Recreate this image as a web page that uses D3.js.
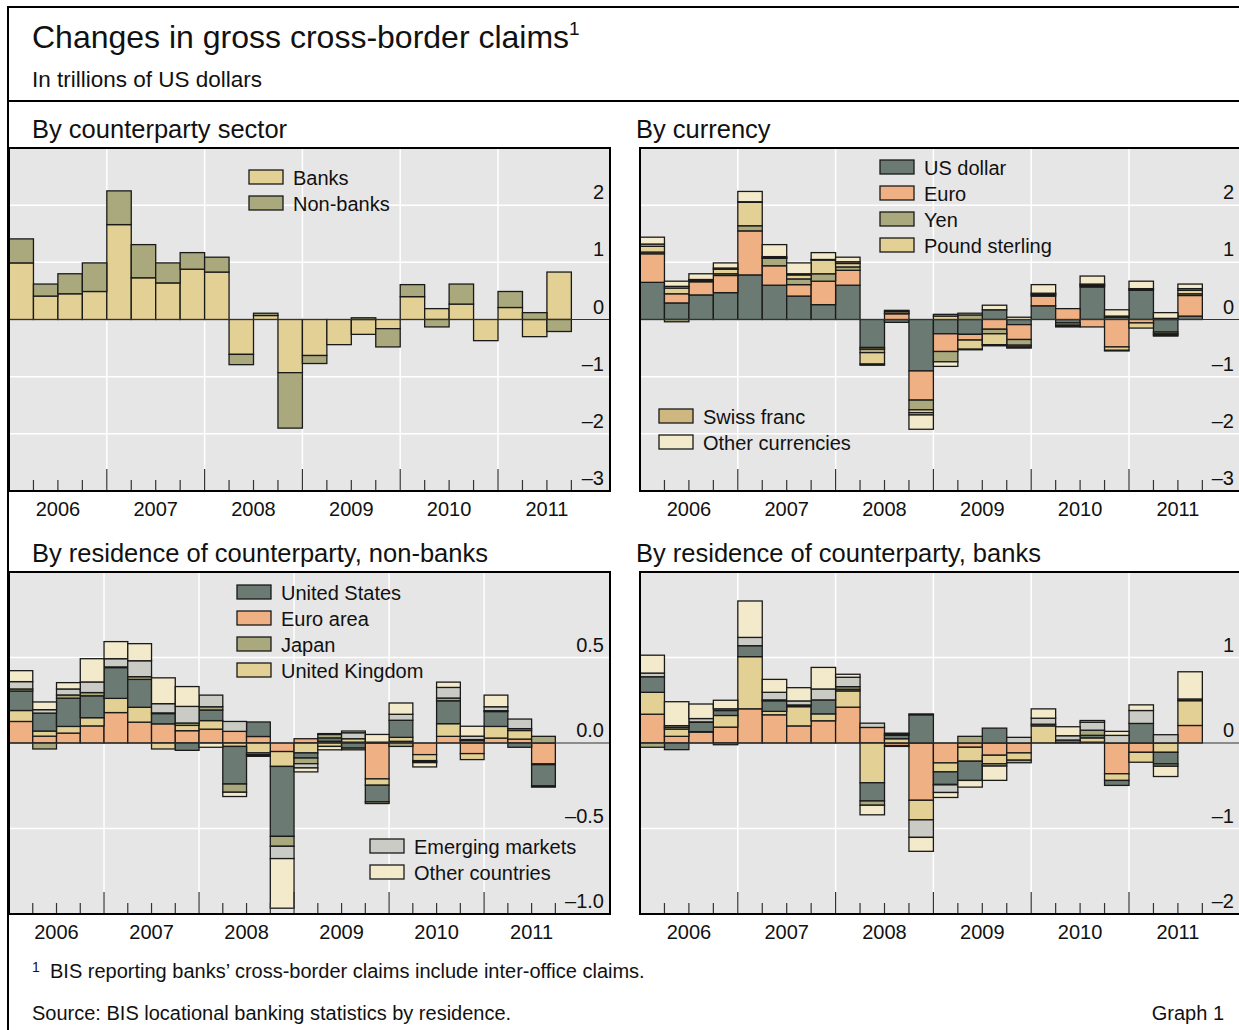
<!DOCTYPE html>
<html>
<head>
<meta charset="utf-8">
<script src="https://cdn.jsdelivr.net/npm/d3@7"></script>
<style>
body { margin: 0; background: #fff; }
svg { display: block; font-family: "Liberation Sans", Arial, sans-serif; }
</style>
</head>
<body>
<svg width="1239" height="1030"></svg>
<script>
// quarters 2006Q1 .. 2011Q3
const quarters = ['2006Q1','2006Q2','2006Q3','2006Q4','2007Q1','2007Q2','2007Q3','2007Q4',
                  '2008Q1','2008Q2','2008Q3','2008Q4','2009Q1','2009Q2','2009Q3','2009Q4',
                  '2010Q1','2010Q2','2010Q3','2010Q4','2011Q1','2011Q2','2011Q3'];
const years = ['2006', '2007', '2008', '2009', '2010', '2011'];

// By counterparty sector
const banks    = [0.99, 0.41, 0.45, 0.49, 1.66, 0.73, 0.64, 0.88, 0.83, -0.61, 0.07, -0.93,
                  -0.63, -0.44, -0.26, -0.16, 0.40, 0.19, 0.27, -0.37, 0.21, -0.30, 0.83];
const nonBanks = [0.42, 0.21, 0.35, 0.50, 0.59, 0.58, 0.35, 0.29, 0.26, -0.18, 0.04, -0.97,
                  -0.14, 0.00, 0.03, -0.32, 0.21, -0.13, 0.35, 0.00, 0.28, 0.12, -0.21];

// By currency
const usDollar = [0.65, 0.29, 0.43, 0.47, 0.78, 0.60, 0.41, 0.26, 0.60, -0.49, -0.05, -0.90,
                  -0.25, -0.26, 0.17, -0.09, 0.24, -0.06, 0.57, 0.04, 0.51, -0.22, 0.06];
const euro     = [0.50, 0.16, 0.23, 0.30, 0.77, 0.34, 0.20, 0.41, 0.26, -0.03, 0.10, -0.51,
                  -0.31, -0.10, -0.17, -0.26, 0.17, 0.19, -0.13, -0.48, -0.06, 0.02, 0.36];
const yen      = [0.03, -0.04, 0.02, 0.03, 0.09, 0.13, 0.10, 0.13, 0.06, -0.06, 0.01, -0.17,
                  -0.18, 0.08, -0.08, -0.10, 0.02, -0.04, 0.02, 0.02, 0.02, -0.03, 0.03];
const sterling = [0.10, 0.10, 0.01, 0.08, 0.41, 0.01, 0.07, 0.24, 0.06, -0.20, 0.03, -0.05,
                  0.06, -0.16, -0.19, -0.03, 0.02, -0.02, 0.02, -0.06, -0.09, -0.02, 0.06];
const swissFranc = [0.04, 0.03, 0.01, 0.02, 0.01, 0.02, 0.02, 0.01, 0.03, -0.02, 0.00, -0.04,
                  0.03, -0.01, -0.02, -0.02, 0.01, -0.01, 0.01, -0.01, 0.01, -0.02, 0.03];
const otherCcy = [0.12, 0.09, 0.10, 0.09, 0.18, 0.21, 0.19, 0.12, 0.08, 0.00, 0.02, -0.25,
                  -0.08, 0.03, 0.08, 0.04, 0.15, 0.00, 0.14, 0.11, 0.13, 0.10, 0.08];

// By residence of counterparty, non-banks
const nbUS = [0.114, 0.105, 0.165, 0.128, 0.18, 0.163, 0.06, -0.043, 0.062, -0.22, 0.085, -0.409,
              -0.03, 0.02, -0.03, -0.097, 0.10, -0.005, 0.134, 0.015, 0.087, -0.025, -0.124];
const nbEA = [0.126, 0.04, 0.058, 0.10, 0.178, 0.122, 0.112, 0.072, 0.081, 0.068, 0.038, -0.05,
              0.025, 0.01, 0.005, -0.21, 0.01, -0.068, 0.039, -0.062, 0.029, 0.023, -0.122];
const nbJP = [0.012, -0.035, 0.019, 0.019, 0.004, 0.016, 0.004, 0.014, 0.019, -0.048, -0.01, -0.058,
              -0.033, 0.02, -0.01, -0.01, -0.02, -0.003, 0.016, 0.005, 0.005, 0.011, 0.039];
const nbUK = [0.064, 0.03, 0.039, 0.048, 0.083, 0.087, -0.035, 0.031, 0.05, -0.02, -0.058, -0.087,
              -0.058, -0.02, 0.02, -0.037, 0.023, -0.035, 0.074, -0.035, 0.068, 0.05, -0.005];
const nbEM = [0.043, 0.02, 0.035, 0.062, 0.048, 0.093, 0.054, 0.097, 0.068, 0.058, -0.005, -0.072,
              -0.025, 0.005, 0.035, 0.005, 0.035, -0.004, 0.062, 0.02, 0.023, 0.056, -0.003];
const nbOC = [0.064, 0.045, 0.037, 0.136, 0.10, 0.10, 0.151, 0.116, -0.025, -0.025, -0.005, -0.29,
              -0.023, -0.02, 0.01, 0.045, 0.066, -0.025, 0.031, 0.058, 0.068, 0.0, -0.004];

// By residence of counterparty, banks
const bUS = [0.182, -0.078, 0.109, 0.058, 0.128, 0.124, 0.015, 0.163, 0.02, -0.213, 0.04, 0.33,
             -0.147, -0.225, 0.174, 0.0, 0.02, 0.03, 0.03, -0.058, 0.229, -0.136, 0.02];
const bEA = [0.337, 0.078, 0.128, 0.186, 0.40, 0.33, 0.20, 0.26, 0.419, 0.182, -0.03, -0.67,
             -0.233, -0.05, -0.143, -0.116, 0.0, 0.005, 0.01, -0.36, -0.109, 0.0, 0.205];
const bJP = [-0.05, 0.02, 0.005, 0.02, 0.0, 0.01, 0.005, 0.0, 0.03, -0.05, -0.01, 0.01,
             -0.005, 0.078, -0.027, -0.03, 0.0, 0.0, 0.06, 0.0, 0.0, -0.027, 0.0];
const bUK = [0.256, 0.085, 0.005, 0.136, 0.61, 0.04, 0.225, 0.081, 0.19, -0.465, 0.05, -0.229,
             -0.105, -0.163, -0.10, -0.085, 0.20, 0.0, 0.05, -0.078, -0.116, -0.109, 0.29];
const bEM = [0.043, 0.02, 0.039, -0.02, 0.097, 0.089, 0.047, 0.128, 0.11, 0.05, 0.015, -0.205,
             -0.089, 0.0, 0.0, 0.066, 0.07, 0.05, 0.093, 0.089, 0.151, 0.097, 0.0];
const bOC = [0.209, 0.28, 0.17, 0.10, 0.426, 0.151, 0.155, 0.252, 0.035, -0.112, 0.01, -0.163,
             -0.058, -0.078, -0.167, 0.0, 0.109, 0.105, 0.02, 0.047, 0.066, -0.12, 0.318];

const sectorTicks = [2, 1, 0, -1, -2, -3];
const currencyTicks = [2, 1, 0, -1, -2, -3];
const nonBankTicks = [0.5, 0, -0.5, -1];
const bankTicks = [1, 0, -1, -2];

const col = {
  dark: '#6b7a72', salmon: '#efb184', olive: '#a9a97d', sand: '#e3d094',
  tan: '#cfb87f', cream: '#f3eacb', grey: '#cbcbc6'
};

const svg = d3.select('svg');
const minus = s => s.replace('-', '\u2013').replace('\u2212', '\u2013');

svg.append('rect').attr('width', 1239).attr('height', 1030).attr('fill', '#fff');

function drawPanel(p) {
  const g = svg.append('g');
  const x = d3.scaleLinear().domain([0, p.span]).range([p.left, p.right]);
  const y = d3.scaleLinear().domain(p.yDomain).range([p.bottom, p.top]);

  const rows = quarters.map((q, i) => {
    const r = { q, i };
    p.keys.forEach(k => { r[k] = p.series[k][i]; });
    return r;
  });
  const stacked = d3.stack().keys(p.keys).offset(d3.stackOffsetDiverging)(rows);

  g.append('rect')
    .attr('x', p.left).attr('y', p.top)
    .attr('width', p.right - p.left).attr('height', p.bottom - p.top)
    .attr('fill', '#e6e6e6');

  g.selectAll('line.hgrid')
    .data(p.ticks.filter(v => v !== 0 && v > p.yDomain[0] && v < p.yDomain[1]))
    .enter().append('line')
    .attr('x1', p.left).attr('x2', p.right)
    .attr('y1', d => y(d)).attr('y2', d => y(d))
    .attr('stroke', '#fff').attr('stroke-width', 1.5);

  g.selectAll('line.vgrid')
    .data(years.slice(1).map((yr, i) => (i + 1) * 4))
    .enter().append('line')
    .attr('x1', d => x(d)).attr('x2', d => x(d))
    .attr('y1', p.top).attr('y2', p.bottom)
    .attr('stroke', '#fff').attr('stroke-width', 1.5);

  g.selectAll('g.layer')
    .data(stacked)
    .enter().append('g')
    .attr('fill', d => p.colors[d.key])
    .selectAll('rect')
    .data(d => d.filter(s => s[1] - s[0] !== 0))
    .enter().append('rect')
    .attr('x', d => x(d.data.i))
    .attr('width', x(1) - x(0))
    .attr('y', d => y(d[1]))
    .attr('height', d => y(d[0]) - y(d[1]))
    .attr('stroke', '#1a1a1a')
    .attr('stroke-width', 1.3);

  g.append('line')
    .attr('x1', p.left).attr('x2', p.right)
    .attr('y1', y(0)).attr('y2', y(0))
    .attr('stroke', '#333').attr('stroke-width', 1);

  g.selectAll('line.tick')
    .data(d3.range(1, quarters.length + 1))
    .enter().append('line')
    .attr('x1', d => x(d)).attr('x2', d => x(d))
    .attr('y1', d => p.bottom - (d % 4 === 0 ? 22 : 11)).attr('y2', p.bottom)
    .attr('stroke', '#333').attr('stroke-width', 1.2);

  g.selectAll('text.ylab')
    .data(p.ticks.filter(v => v < p.yDomain[1]))
    .enter().append('text')
    .attr('x', p.right - 6).attr('y', d => y(d) - 6)
    .attr('text-anchor', 'end').attr('font-size', 20).attr('fill', '#111')
    .text(d => minus(p.fmt(d)));

  g.selectAll('text.year')
    .data(years)
    .enter().append('text')
    .attr('x', (d, i) => x(i * 4 + 2)).attr('y', p.bottom + 25)
    .attr('text-anchor', 'middle').attr('font-size', 20).attr('fill', '#111')
    .text(d => d);

  g.append('text')
    .attr('x', p.titleX).attr('y', p.top - 10)
    .attr('font-size', 25.5).attr('fill', '#111')
    .text(p.title);

  p.legends.forEach(lg => {
    lg.keys.forEach((k, j) => {
      const ty = lg.y + j * 26;
      g.append('rect')
        .attr('x', lg.x).attr('y', ty).attr('width', 34).attr('height', 14)
        .attr('fill', p.colors[k]).attr('stroke', '#1a1a1a').attr('stroke-width', 1.3);
      g.append('text')
        .attr('x', lg.x + 44).attr('y', ty + 15)
        .attr('font-size', 20).attr('fill', '#111')
        .text(k);
    });
  });

  g.append('rect')
    .attr('x', p.left).attr('y', p.top)
    .attr('width', p.right - p.left).attr('height', p.bottom - p.top)
    .attr('fill', 'none').attr('stroke', '#000').attr('stroke-width', 2);
}

const intFmt = d3.format('d');
const oneFmt = d3.format('.1f');

drawPanel({
  title: 'By counterparty sector', titleX: 32,
  left: 9, right: 610, top: 148, bottom: 491, span: 24.58,
  yDomain: [-3, 3], ticks: sectorTicks, fmt: intFmt,
  keys: ['Banks', 'Non-banks'],
  series: { 'Banks': banks, 'Non-banks': nonBanks },
  colors: { 'Banks': col.sand, 'Non-banks': col.olive },
  legends: [{ x: 249, y: 170, keys: ['Banks', 'Non-banks'] }]
});

drawPanel({
  title: 'By currency', titleX: 636,
  left: 640, right: 1240, top: 148, bottom: 491, span: 24.54,
  yDomain: [-3, 3], ticks: currencyTicks, fmt: intFmt,
  keys: ['US dollar', 'Euro', 'Yen', 'Pound sterling', 'Swiss franc', 'Other currencies'],
  series: { 'US dollar': usDollar, 'Euro': euro, 'Yen': yen, 'Pound sterling': sterling,
            'Swiss franc': swissFranc, 'Other currencies': otherCcy },
  colors: { 'US dollar': col.dark, 'Euro': col.salmon, 'Yen': col.olive, 'Pound sterling': col.sand,
            'Swiss franc': col.tan, 'Other currencies': col.cream },
  legends: [{ x: 880, y: 160, keys: ['US dollar', 'Euro', 'Yen', 'Pound sterling'] },
            { x: 659, y: 409, keys: ['Swiss franc', 'Other currencies'] }]
});

const residenceColors = { 'United States': col.dark, 'Euro area': col.salmon, 'Japan': col.olive,
                          'United Kingdom': col.sand, 'Emerging markets': col.grey, 'Other countries': col.cream };
const residenceKeys = ['Euro area', 'United Kingdom', 'United States', 'Japan', 'Emerging markets', 'Other countries'];

drawPanel({
  title: 'By residence of counterparty, non-banks', titleX: 32,
  left: 9, right: 610, top: 572, bottom: 914, span: 25.3,
  yDomain: [-1, 1], ticks: nonBankTicks, fmt: oneFmt,
  keys: residenceKeys,
  series: { 'United States': nbUS, 'Euro area': nbEA, 'Japan': nbJP, 'United Kingdom': nbUK,
            'Emerging markets': nbEM, 'Other countries': nbOC },
  colors: residenceColors,
  legends: [{ x: 237, y: 585, keys: ['United States', 'Euro area', 'Japan', 'United Kingdom'] },
            { x: 370, y: 839, keys: ['Emerging markets', 'Other countries'] }]
});

drawPanel({
  title: 'By residence of counterparty, banks', titleX: 636,
  left: 640, right: 1240, top: 572, bottom: 914, span: 24.54,
  yDomain: [-2, 2], ticks: bankTicks, fmt: intFmt,
  keys: residenceKeys,
  series: { 'United States': bUS, 'Euro area': bEA, 'Japan': bJP, 'United Kingdom': bUK,
            'Emerging markets': bEM, 'Other countries': bOC },
  colors: residenceColors,
  legends: []
});

// frame and header
svg.append('line').attr('x1', 8).attr('x2', 1239).attr('y1', 7).attr('y2', 7)
  .attr('stroke', '#000').attr('stroke-width', 2);
svg.append('line').attr('x1', 8).attr('x2', 8).attr('y1', 6).attr('y2', 1030)
  .attr('stroke', '#000').attr('stroke-width', 2);
svg.append('line').attr('x1', 8).attr('x2', 1239).attr('y1', 101).attr('y2', 101)
  .attr('stroke', '#000').attr('stroke-width', 2);

const title = svg.append('text').attr('x', 32).attr('y', 48)
  .attr('font-size', 32).attr('fill', '#111');
title.append('tspan').text('Changes in gross cross-border claims');
title.append('tspan').attr('dy', -13).attr('font-size', 19).text('1');

svg.append('text').attr('x', 32).attr('y', 87)
  .attr('font-size', 22.5).attr('fill', '#111')
  .text('In trillions of US dollars');

svg.append('text').attr('x', 32).attr('y', 972)
  .attr('font-size', 14).attr('fill', '#111').text('1');
svg.append('text').attr('x', 50).attr('y', 978)
  .attr('font-size', 20).attr('fill', '#111')
  .text('BIS reporting banks\u2019 cross-border claims include inter-office claims.');
svg.append('text').attr('x', 32).attr('y', 1020)
  .attr('font-size', 20).attr('fill', '#111')
  .text('Source: BIS locational banking statistics by residence.');
svg.append('text').attr('x', 1224).attr('y', 1020)
  .attr('text-anchor', 'end').attr('font-size', 20).attr('fill', '#111')
  .text('Graph 1');
</script>
</body>
</html>
